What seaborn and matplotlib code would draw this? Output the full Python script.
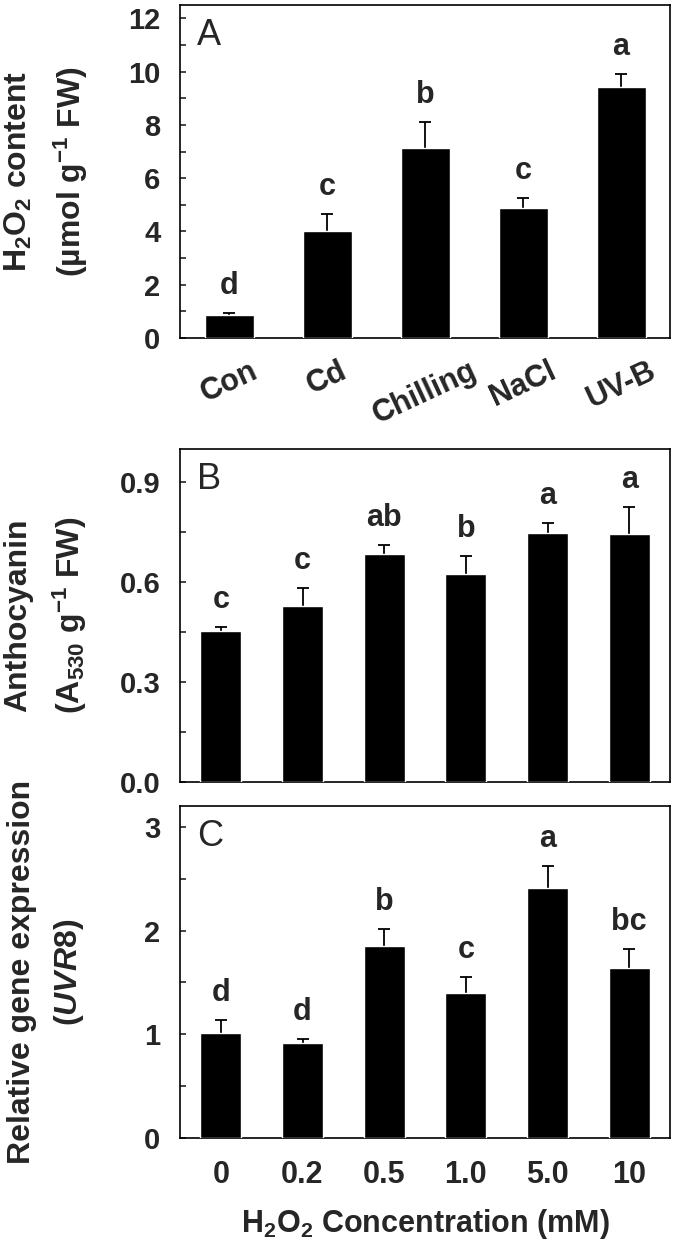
import numpy as np
import pandas as pd
import seaborn as sns
import matplotlib.pyplot as plt
from matplotlib.ticker import MultipleLocator

# ---------------- data ----------------
stress = ["Con", "Cd", "Chilling", "NaCl", "UV-B"]
h2o2_content = [0.85, 4.03, 7.15, 4.88, 9.42]
h2o2_err = [0.08, 0.62, 0.94, 0.37, 0.50]
h2o2_letters = ["d", "c", "b", "c", "a"]

conc = ["0", "0.2", "0.5", "1.0", "5.0", "10"]
antho = [0.453, 0.529, 0.686, 0.625, 0.749, 0.746]
antho_err = [0.012, 0.053, 0.027, 0.053, 0.028, 0.080]
antho_letters = ["c", "c", "ab", "b", "a", "a"]

uvr8 = [1.008, 0.918, 1.85, 1.395, 2.406, 1.638]
uvr8_err = [0.128, 0.032, 0.16, 0.157, 0.218, 0.186]
uvr8_letters = ["d", "d", "b", "c", "a", "bc"]

# ---------------- style ----------------
sns.set_style("white")
plt.rcParams["font.family"] = ["Liberation Sans", "DejaVu Sans"]
plt.rcParams["font.weight"] = "bold"
plt.rcParams["mathtext.fontset"] = "custom"
plt.rcParams["mathtext.rm"] = "Liberation Sans:bold"
plt.rcParams["mathtext.it"] = "Liberation Sans:italic:bold"
plt.rcParams["mathtext.bf"] = "Liberation Sans:bold"
plt.rcParams["mathtext.default"] = "rm"

W, H = 675, 1252
fig = plt.figure(figsize=(W / 100, H / 100), dpi=100)


def add_ax(top, bottom):
    return fig.add_axes([180 / W, 1 - bottom / H, 490 / W, (bottom - top) / H])


def panel(ax, cats, vals, errs, letters, ymax, major, minor, fmt, tag, ylabel):
    df = pd.DataFrame({"cat": cats, "val": vals})
    sns.barplot(data=df, x="cat", y="val", color="black", width=0.5,
                errorbar=None, saturation=1, ax=ax, zorder=3)
    x = np.arange(len(cats))
    # upper error only, hide the lower cap sitting on the bar top
    eb = ax.errorbar(x, vals, yerr=[np.zeros(len(vals)), errs], fmt="none",
                     ecolor="black", elinewidth=1.3, capsize=4.3, capthick=1.3,
                     zorder=1)
    eb[1][0].set_visible(False)
    for xi, v, e, t in zip(x, vals, errs, letters):
        ax.annotate(t, (xi, v + e), xytext=(0, 12), textcoords="offset pixels",
                    ha="center", va="bottom", fontsize=22, fontweight="bold")
    ax.set_xlim(-0.5, len(cats) - 0.5)
    ax.set_ylim(0, ymax)
    ax.yaxis.set_major_locator(MultipleLocator(major))
    ax.yaxis.set_minor_locator(MultipleLocator(minor))
    ax.yaxis.set_major_formatter(plt.FormatStrFormatter(fmt))
    ax.tick_params(axis="y", which="both", direction="in", length=4,
                   width=1.2, left=True, pad=14)
    ax.tick_params(axis="x", which="both", length=0)
    for lab in ax.get_yticklabels():
        lab.set_fontsize(21)
        lab.set_fontweight("bold")
    for s in ax.spines.values():
        s.set_visible(True)
        s.set_color("black")
        s.set_linewidth(1.2)
    ax.set_xlabel("")
    ax.set_ylabel("")
    ax.text(0.035, 0.96, tag, transform=ax.transAxes, ha="left", va="top",
            fontsize=26, fontweight="normal")
    ax.text(-0.273, 0.5, ylabel, transform=ax.transAxes, rotation=90,
            ha="center", va="center", fontsize=23, fontweight="bold",
            linespacing=1.6, multialignment="center")


# ---------------- panel A ----------------
axA = add_ax(5, 338)
panel(axA, stress, h2o2_content, h2o2_err, h2o2_letters, 12.5, 2, 1, "%d", "A",
      "H$_2$O$_2$ content\n(µmol g$^{-1}$ FW)")
axA.set_xticks(range(len(stress)))
axA.set_xticklabels(stress, rotation=25, fontsize=22, fontweight="bold")
axA.tick_params(axis="x", pad=13)

# ---------------- panel B ----------------
axB = add_ax(449, 782)
panel(axB, conc, antho, antho_err, antho_letters, 1.0, 0.3, 0.15, "%.1f", "B",
      "Anthocyanin\n(A$_{530}$ g$^{-1}$ FW)")
axB.set_xticklabels([])

# ---------------- panel C ----------------
axC = add_ax(806, 1138)
panel(axC, conc, uvr8, uvr8_err, uvr8_letters, 3.2, 1, 0.5, "%d", "C",
      "Relative gene expression\n($\\mathit{UVR8}$)")
axC.set_xticks(range(len(conc)))
axC.set_xticklabels(conc, fontsize=22, fontweight="bold")
axC.tick_params(axis="x", pad=16)
axC.set_xlabel("H$_2$O$_2$ Concentration (mM)", fontsize=22, fontweight="bold",
               labelpad=12)

fig.savefig("out.png", dpi=100, facecolor="white")
